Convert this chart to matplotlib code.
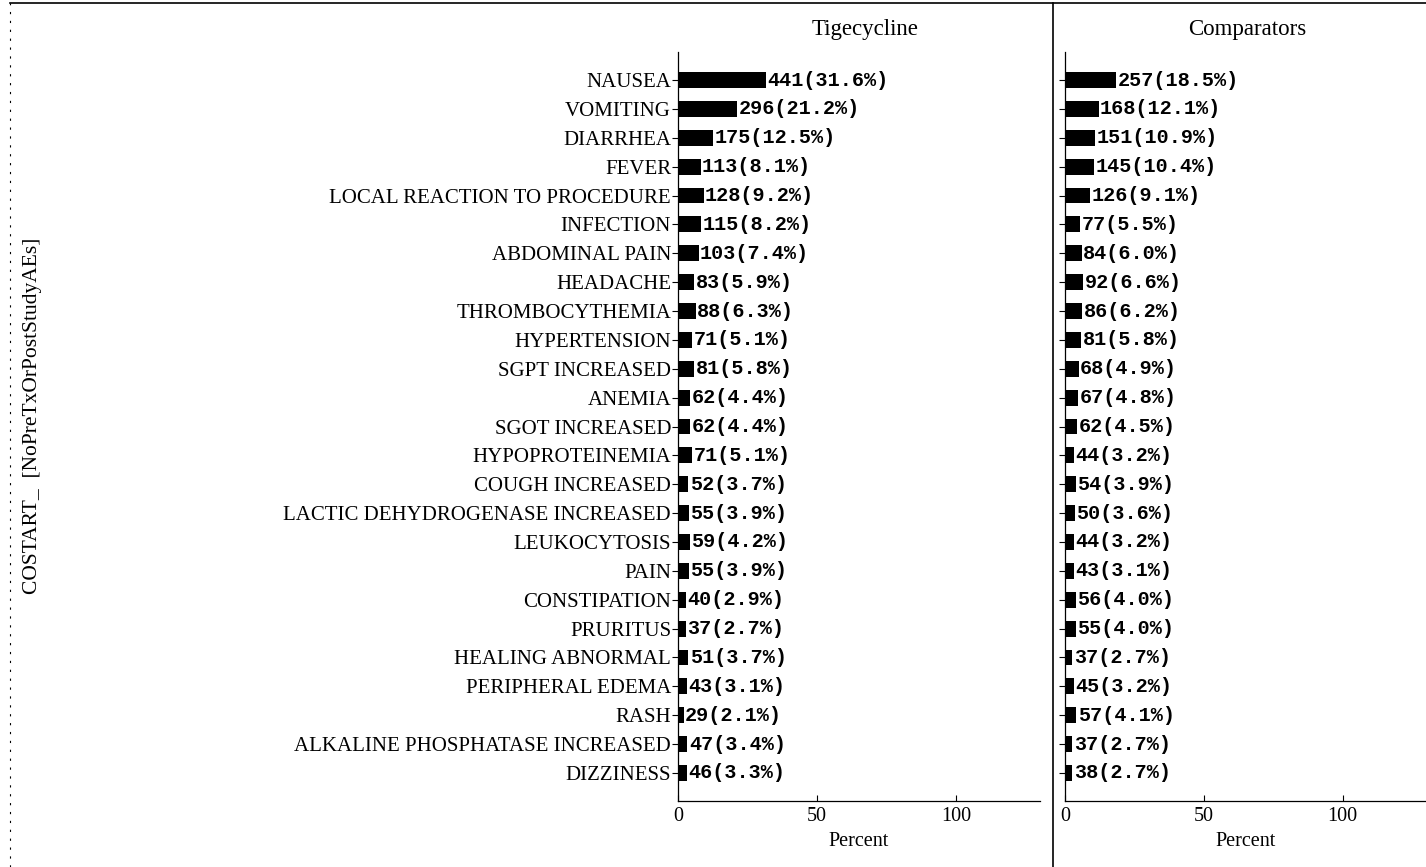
import matplotlib.pyplot as plt
from matplotlib.lines import Line2D
import numpy as np

# adverse events, in display order (top to bottom)
events = ["NAUSEA", "VOMITING", "DIARRHEA", "FEVER", "LOCAL REACTION TO PROCEDURE",
          "INFECTION", "ABDOMINAL PAIN", "HEADACHE", "THROMBOCYTHEMIA", "HYPERTENSION",
          "SGPT INCREASED", "ANEMIA", "SGOT INCREASED", "HYPOPROTEINEMIA", "COUGH INCREASED",
          "LACTIC DEHYDROGENASE INCREASED", "LEUKOCYTOSIS", "PAIN", "CONSTIPATION", "PRURITUS",
          "HEALING ABNORMAL", "PERIPHERAL EDEMA", "RASH", "ALKALINE PHOSPHATASE INCREASED",
          "DIZZINESS"]

tige_n = [441, 296, 175, 113, 128, 115, 103, 83, 88, 71, 81, 62, 62, 71, 52, 55, 59, 55,
          40, 37, 51, 43, 29, 47, 46]
tige_pct = [31.6, 21.2, 12.5, 8.1, 9.2, 8.2, 7.4, 5.9, 6.3, 5.1, 5.8, 4.4, 4.4, 5.1, 3.7,
            3.9, 4.2, 3.9, 2.9, 2.7, 3.7, 3.1, 2.1, 3.4, 3.3]

comp_n = [257, 168, 151, 145, 126, 77, 84, 92, 86, 81, 68, 67, 62, 44, 54, 50, 44, 43,
          56, 55, 37, 45, 57, 37, 38]
comp_pct = [18.5, 12.1, 10.9, 10.4, 9.1, 5.5, 6.0, 6.6, 6.2, 5.8, 4.9, 4.8, 4.5, 3.2, 3.9,
            3.6, 3.2, 3.1, 4.0, 4.0, 2.7, 3.2, 4.1, 2.7, 2.7]

panels = ["Tigecycline", "Comparators"]
xticks = [0, 50, 100]

serif = "Liberation Serif"
mono = "Liberation Mono"

W, H = 1426, 867
fig = plt.figure(figsize=(W / 100, H / 100), dpi=100)

def px_axes(x0, x1, y0, y1):
    return fig.add_axes([x0 / W, 1 - y1 / H, (x1 - x0) / W, (y1 - y0) / H])

ax1 = px_axes(678, 1040, 52, 801)
ax2 = px_axes(1065, 1426, 52, 801)
title_x = [865, 1247]

y = np.arange(len(events))
for ax, title, tx, counts, pcts in [(ax1, panels[0], title_x[0], tige_n, tige_pct),
                                    (ax2, panels[1], title_x[1], comp_n, comp_pct)]:
    ax.barh(y, pcts, height=0.55, color="black")
    for yi, n, p in zip(y, counts, pcts):
        ax.text(p + 0.5, yi, f"{n}({p:.1f}%)", va="center", ha="left",
                fontfamily=mono, fontweight="bold", fontsize=14.5)
    ax.set_xlim(0, 130)
    ax.set_ylim(len(events) - 1 + 0.97, -0.97)
    ax.set_xticks(xticks)
    ax.set_xticklabels([str(t) for t in xticks], fontfamily=serif, fontsize=14.5)
    ax.set_xlabel("Percent", fontfamily=serif, fontsize=14.5, labelpad=5)
    ax.set_yticks(y)
    for s in ["top", "right"]:
        ax.spines[s].set_visible(False)
    for s in ["left", "bottom"]:
        ax.spines[s].set_linewidth(0.9)
    ax.tick_params(axis="x", direction="in", length=4, width=0.8, pad=4)
    ax.tick_params(axis="y", direction="out", length=4, width=0.8, pad=1)
    fig.text(tx / W, 1 - 30 / H, title, ha="center", va="center",
             fontfamily=serif, fontsize=16.5)

ax1.set_yticklabels(events, fontfamily=serif, fontsize=15)
ax2.set_yticklabels([])

fig.text(33 / W, 1 - 416 / H, "COSTART_  [NoPreTxOrPostStudyAEs]", rotation=90,
         ha="center", va="center", fontfamily=serif, fontsize=15.5)

# frame lines around the output
fig.add_artist(Line2D([10 / W, 1], [1 - 3 / H, 1 - 3 / H], color="black", lw=1.2))
fig.add_artist(Line2D([1053 / W, 1053 / W], [0, 1 - 3 / H], color="black", lw=1.2))
fig.add_artist(Line2D([10 / W, 10 / W], [0, 1 - 3 / H], color="black", lw=0.8,
                      linestyle=(0, (2, 6))))

fig.savefig("out.png", dpi=100)
